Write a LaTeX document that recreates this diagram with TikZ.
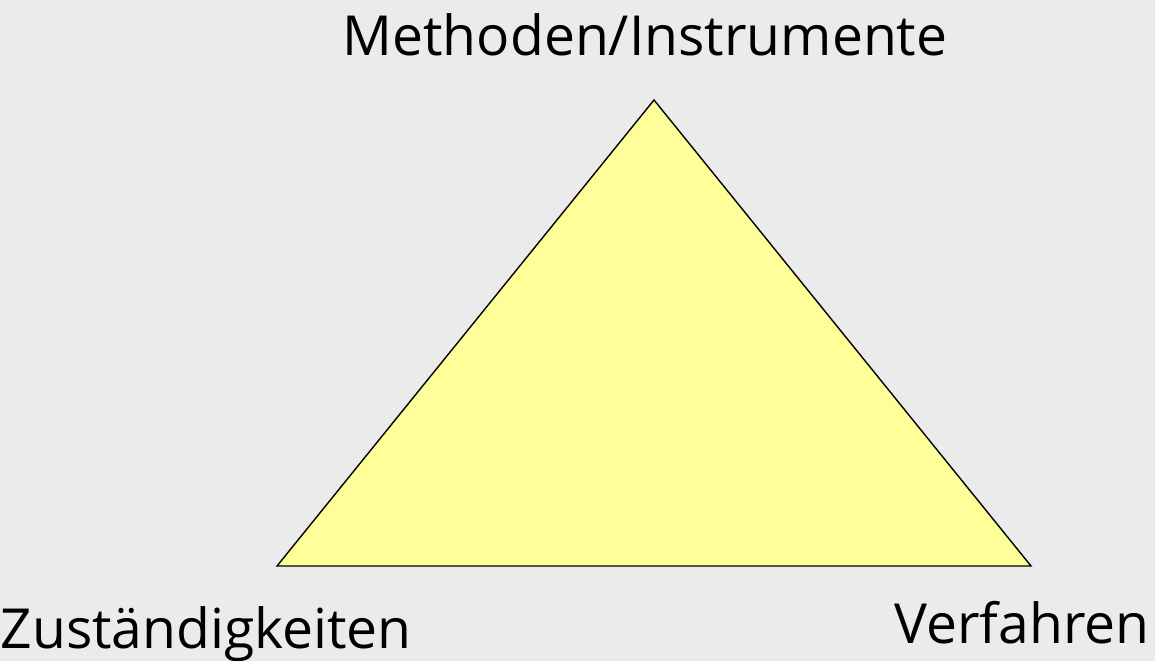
\documentclass[tikz,border=0pt]{standalone}
\usepackage{fontspec}
\setmainfont{Open Sans}
\definecolor{bg}{HTML}{EBEBEB}
\definecolor{triyellow}{HTML}{FFFF99}
\tikzset{lbl/.style={inner sep=0pt, font=\fontsize{15.7}{19}\selectfont}}
\begin{document}
\begin{tikzpicture}[x=0.01cm,y=-0.01cm]
\fill[bg] (0,0) rectangle (1155,661);
\useasboundingbox (0,0) rectangle (1155,661);
\coordinate (top) at (654,100);
\coordinate (left) at (277,566);
\coordinate (right) at (1031,566);
\filldraw[fill=triyellow, draw=black, line width=0.4pt, line join=miter] (top) -- (left) -- (right) -- cycle;
\node[lbl, anchor=base] (m) at (645,56) {Methoden/Instrumente};
\node[lbl, anchor=base west] (z) at (0,648) {Zuständigkeiten};
\node[lbl, anchor=base east] (v) at (1150,643) {Verfahren};
\end{tikzpicture}
\end{document}
